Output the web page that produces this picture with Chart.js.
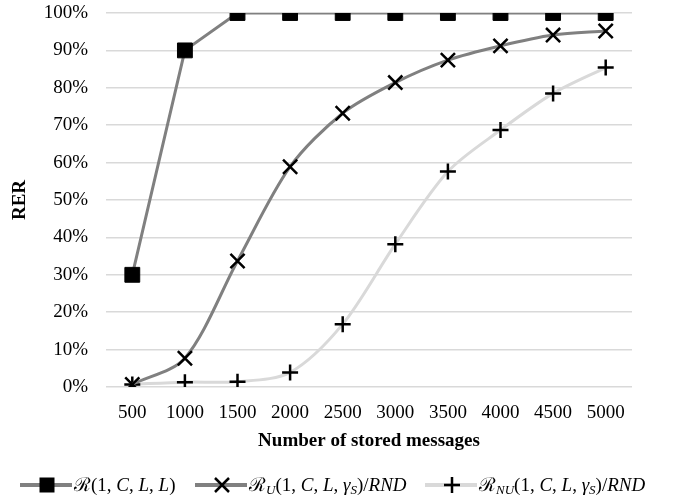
<!DOCTYPE html>
<html>
<head>
<meta charset="utf-8">
<script src="https://cdn.jsdelivr.net/npm/chart.js@4.4.1/dist/chart.umd.min.js"></script>
<style>
  html, body { margin: 0; padding: 0; background: #fff; }
  #wrap { width: 675px; height: 499px; position: relative; }
</style>
</head>
<body>
<div id="wrap"><canvas id="rerChart"></canvas></div>
<script>
// data
var messages = ['500', '1000', '1500', '2000', '2500', '3000', '3500', '4000', '4500', '5000'];
var rLL = [30, 90, 100, 100, 100, 100, 100, 100, 100, 100];
var rU = [0.7, 7.7, 33.7, 58.9, 73.2, 81.4, 87.4, 91.2, 94.1, 95.2];
var rNU = [0.7, 1.3, 1.4, 3.9, 16.8, 38.2, 57.6, 68.7, 78.5, 85.4];
var yTicks = [0, 10, 20, 30, 40, 50, 60, 70, 80, 90, 100];

var SERIF = '"Liberation Serif", "Times New Roman", "DejaVu Serif", serif';

// legend text pieces: i = italic, sub = subscript
var legendItems = [
    {
        color: '#808080', marker: 'rect',
        parts: [{t: 'ℛ'}, {t: '(1, '}, {t: 'C', i: true}, {t: ', '}, {t: 'L', i: true}, {t: ', '}, {t: 'L', i: true}, {t: ')'}]
    },
    {
        color: '#808080', marker: 'crossRot',
        parts: [{t: 'ℛ'}, {t: 'U', i: true, sub: true}, {t: '(1, '}, {t: 'C', i: true}, {t: ', '}, {t: 'L', i: true}, {t: ', '},
                {t: 'γ', i: true}, {t: 'S', i: true, sub: true}, {t: ')/'}, {t: 'RND', i: true}]
    },
    {
        color: '#d9d9d9', marker: 'cross',
        parts: [{t: 'ℛ'}, {t: 'NU', i: true, sub: true}, {t: '(1, '}, {t: 'C', i: true}, {t: ', '}, {t: 'L', i: true}, {t: ', '},
                {t: 'γ', i: true}, {t: 'S', i: true, sub: true}, {t: ')/'}, {t: 'RND', i: true}]
    }
];
var legendStarts = [20, 195, 425];

function drawMarker(ctx, type, x, y) {
    ctx.save();
    ctx.fillStyle = '#000';
    ctx.strokeStyle = '#000';
    ctx.lineWidth = 2.5;
    ctx.beginPath();
    if (type === 'rect') {
        ctx.rect(x - 7.5, y - 7.5, 15, 15);
        ctx.fill();
    } else if (type === 'crossRot') {
        ctx.moveTo(x - 7, y - 7); ctx.lineTo(x + 7, y + 7);
        ctx.moveTo(x + 7, y - 7); ctx.lineTo(x - 7, y + 7);
        ctx.stroke();
    } else {
        ctx.moveTo(x - 8, y); ctx.lineTo(x + 8, y);
        ctx.moveTo(x, y - 8); ctx.lineTo(x, y + 8);
        ctx.stroke();
    }
    ctx.restore();
}

var mathLegend = {
    id: 'mathLegend',
    afterDraw: function(chart) {
        var ctx = chart.ctx;
        var y = 485;
        ctx.save();
        legendItems.forEach(function(item, idx) {
            var x = legendStarts[idx];
            ctx.strokeStyle = item.color;
            ctx.lineWidth = 4;
            ctx.beginPath();
            ctx.moveTo(x, y);
            ctx.lineTo(x + 52, y);
            ctx.stroke();
            drawMarker(ctx, item.marker, x + 27, y);
            var tx = x + 54;
            ctx.fillStyle = '#000';
            ctx.textBaseline = 'alphabetic';
            item.parts.forEach(function(p) {
                var size = p.sub ? 13 : 19;
                ctx.font = (p.i ? 'italic ' : '') + size + 'px ' + SERIF;
                ctx.fillText(p.t, tx, p.sub ? y + 9 : y + 6);
                tx += ctx.measureText(p.t).width;
            });
        });
        ctx.restore();
    }
};

new Chart(document.getElementById('rerChart'), {
    type: 'line',
    data: {
        labels: messages,
        datasets: [
            {
                label: 'R(1,C,L,L)',
                data: rLL,
                borderColor: '#808080',
                borderWidth: 3,
                pointStyle: 'rect',
                pointRadius: 10.5,
                pointBackgroundColor: '#000',
                pointBorderColor: '#000',
                pointBorderWidth: 1,
                tension: 0
            },
            {
                label: 'RU(1,C,L,gS)/RND',
                data: rU,
                borderColor: '#808080',
                borderWidth: 3,
                pointStyle: 'crossRot',
                pointRadius: 10,
                pointBorderColor: '#000',
                pointBorderWidth: 2.5,
                tension: 0.3
            },
            {
                label: 'RNU(1,C,L,gS)/RND',
                data: rNU,
                borderColor: '#d9d9d9',
                borderWidth: 3,
                pointStyle: 'cross',
                pointRadius: 8,
                pointBorderColor: '#000',
                pointBorderWidth: 2.5,
                tension: 0.3
            }
        ]
    },
    options: {
        responsive: true,
        maintainAspectRatio: false,
        animation: false,
        layout: { autoPadding: false, padding: { left: 0, right: 43, top: 13, bottom: 0 } },
        plugins: {
            legend: { display: false },
            tooltip: { enabled: false }
        },
        scales: {
            x: {
                offset: true,
                grid: { display: false, drawTicks: false },
                border: { display: false },
                ticks: { color: '#000', padding: 15, maxRotation: 0, font: { family: SERIF, size: 19 } },
                title: {
                    display: true,
                    text: 'Number of stored messages',
                    color: '#000',
                    font: { family: SERIF, size: 19, weight: 'bold' },
                    padding: { top: 0, bottom: 47 }
                },
                afterFit: function(scale) {
                    scale.height = 112;
                    scale.paddingLeft = 0;
                    scale.paddingRight = 0;
                }
            },
            y: {
                min: 0,
                max: 100,
                afterBuildTicks: function(scale) {
                    scale.ticks = yTicks.map(function(v) { return { value: v }; });
                },
                grid: { color: '#d9d9d9', lineWidth: 1.5, drawTicks: false },
                border: { display: false },
                ticks: {
                    color: '#000',
                    padding: 18,
                    font: { family: SERIF, size: 19 },
                    callback: function(v) { return v + '%'; }
                },
                title: {
                    display: true,
                    text: 'RER',
                    color: '#000',
                    font: { family: SERIF, size: 19, weight: 'bold' },
                    padding: { top: 9, bottom: 0 }
                },
                afterFit: function(scale) {
                    scale.width = 106;
                    scale.paddingTop = 0;
                    scale.paddingBottom = 0;
                }
            }
        }
    },
    plugins: [mathLegend]
});
</script>
</body>
</html>
